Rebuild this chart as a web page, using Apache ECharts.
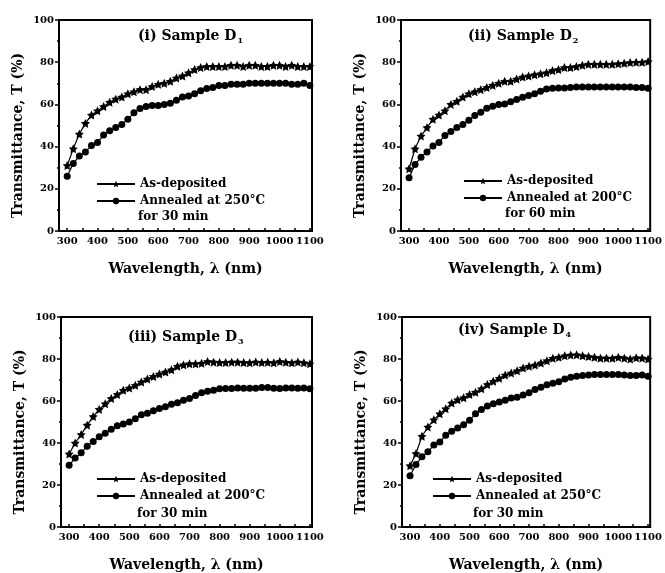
<!DOCTYPE html>
<html>
<head>
<meta charset="utf-8">
<script src="https://cdn.jsdelivr.net/npm/echarts@6/dist/echarts.min.js"></script>
<style>
  html, body { margin: 0; padding: 0; background: #fff; }
  #chart { width: 665px; height: 573px; }
</style>
</head>
<body>
<div id="chart"></div>
<script>
// wavelength grid, 300..1100 nm every 20 nm
var wavelength = [300,320,340,360,380,400,420,440,460,480,500,520,540,560,580,600,620,640,660,680,700,
  720,740,760,780,800,820,840,860,880,900,920,940,960,980,1000,1020,1040,1060,1080,1100];
var xLabels = [300,400,500,600,700,800,900,1000,1100];
var xTickMarks = [300,350,400,450,500,550,600,650,700,750,800,850,900,950,1000,1050,1100];

var d1Dep = [31,39,46,51,55,57,59,61,62.5,63.5,65,66,67,67,68.5,69.5,70,71,72.5,73.5,75,
  76.5,77.5,78,78,78,78,78.5,78.5,78,78.5,78.5,78,78,78.5,78.5,78,78.5,78,78,78];
var d1Ann = [26,32,35.5,37.5,40.5,42,45.5,47.5,49,50.5,53,56,58,59,59.5,59.5,60,60.5,62,63.5,64,
  65,66.5,67.5,68,69,69,69.5,69.5,69.5,70,70,70,70,70,70,70,69.5,69.5,70,69];
var d2Dep = [29.5,39,45,49,53,55,57,60,61.5,63.5,65,66,67,68,69,70,71,71,72,73,73.5,
  74,74.5,75,76,76.5,77.5,77.5,78,78.5,79,79,79,79,79,79.3,79.5,79.8,80,80,80.3];
var d2Ann = [25.2,31.5,35,37.5,40.3,42,45.3,47.2,49,50.5,52.5,54.7,56.3,58.2,59.1,60,60.2,61.3,62.3,63.4,64.2,
  65,66.2,67.3,67.6,67.8,67.8,68,68.2,68.2,68.2,68.3,68.3,68.3,68.3,68.3,68.2,68.2,68,68,67.6];
var d3Dep = [34.8,40,44,48.5,52.6,56,58.7,61.2,63.1,65.1,66.2,67.5,69,70.5,71.7,72.8,73.8,74.9,76.5,77.2,77.7,
  77.7,78,78.8,78.5,78.3,78.3,78.5,78.5,78.3,78.2,78.6,78.3,78.4,78.2,78.8,78.4,78.2,78.6,78.2,77.7];
var d3Ann = [29.4,32.8,35.3,38.5,40.7,43,44.7,46.6,48.2,49,50,51.6,53.4,54.2,55.3,56.4,57.3,58.4,59.2,60.3,61.2,
  62.6,63.9,64.7,65.1,65.8,66,66,66.2,66.1,66.1,66.1,66.4,66.4,66.1,66,66.2,66.2,66.1,66.2,65.8];
var d4Dep = [29.2,35,43.2,47.6,51.1,53.9,56.3,59,60.6,61.5,63.1,64.2,65.8,67.8,69.4,70.8,72.4,73.3,74.4,75.7,76.5,
  77.1,78.1,79.2,80.3,80.8,81.5,81.9,82,81.5,81.2,80.8,80.4,80.4,80.3,80.8,80.4,80,80.6,80.4,80];
var d4Ann = [24.4,29.8,33.4,35.8,39,40.5,43.7,45.6,47.2,48.7,50.8,53.9,56,57.6,58.7,59.5,60.3,61.4,61.8,62.9,63.9,
  65.5,66.6,67.7,68.5,69.2,70.5,71.3,71.8,72.1,72.4,72.6,72.6,72.6,72.6,72.6,72.4,72.2,72.1,72.4,71.8];

var panels = [
  { roman: '(i)', sub: '1', dep: d1Dep, ann: d1Ann, anneal: 'Annealed at 250°C', time: 'for 30 min',
    grid: { left: 59, top: 20, width: 253, height: 211 }, title: [133, 22], legend: [96, 178], timeAt: [138, 211] },
  { roman: '(ii)', sub: '2', dep: d2Dep, ann: d2Ann, anneal: 'Annealed at 200°C', time: 'for 60 min',
    grid: { left: 401, top: 20, width: 253, height: 211 }, title: [463, 22], legend: [463, 175], timeAt: [505, 208] },
  { roman: '(iii)', sub: '3', dep: d3Dep, ann: d3Ann, anneal: 'Annealed at 200°C', time: 'for 30 min',
    grid: { left: 61, top: 317, width: 251, height: 212 }, title: [123, 323], legend: [96, 473], timeAt: [137, 508] },
  { roman: '(iv)', sub: '4', dep: d4Dep, ann: d4Ann, anneal: 'Annealed at 250°C', time: 'for 30 min',
    grid: { left: 402, top: 317, width: 252, height: 212 }, title: [453, 316], legend: [432, 473], timeAt: [473, 508] }
];

var FONT = 'DejaVu Serif';
var star = 'path://M0,-10L2.94,-4.05L9.51,-3.09L4.76,1.55L5.88,8.09L0,5L-5.88,8.09L-4.76,1.55L-9.51,-3.09L-2.94,-4.05Z';

function pairs(ys) {
  return wavelength.map(function (w, i) { return [w, ys[i]]; });
}

var option = {
  backgroundColor: '#fff',
  animation: false,
  textStyle: { fontFamily: FONT },
  title: [], legend: [], grid: [], xAxis: [], yAxis: [], series: [], graphic: []
};

panels.forEach(function (p, k) {
  var depName = 'As-deposited ' + k;
  var annName = p.anneal + ' ' + k;
  option.grid.push({
    left: p.grid.left, top: p.grid.top, width: p.grid.width, height: p.grid.height,
    show: true, borderColor: '#000', borderWidth: 2, backgroundColor: 'transparent'
  });
  option.title.push({
    left: p.title[0], top: p.title[1],
    text: '{a|' + p.roman + ' Sample D}{b|' + p.sub + '}',
    textStyle: {
      rich: {
        a: { fontFamily: FONT, fontWeight: 'bold', fontSize: 14, color: '#000' },
        b: { fontFamily: FONT, fontWeight: 'bold', fontSize: 8, color: '#000', padding: [10, 0, 0, 1] }
      }
    }
  });
  option.xAxis.push({
    gridIndex: k, type: 'value', min: 273, max: 1107,
    name: 'Wavelength, λ (nm)', nameLocation: 'middle', nameGap: 31,
    nameTextStyle: { fontFamily: FONT, fontWeight: 'bold', fontSize: 14, color: '#000' },
    axisLine: { onZero: false, lineStyle: { color: '#000', width: 2 } },
    axisTick: { inside: true, length: 3, customValues: xTickMarks, lineStyle: { color: '#000', width: 1.5 } },
    axisLabel: {
      customValues: xLabels, fontFamily: FONT, fontWeight: 'bold', fontSize: 10, color: '#000', margin: 5,
      formatter: function (v) { return String(v); }
    },
    splitLine: { show: false }
  });
  option.yAxis.push({
    gridIndex: k, type: 'value', min: 0, max: 100, interval: 20,
    name: 'Transmittance, T (%)', nameLocation: 'middle', nameGap: 34,
    nameTextStyle: { fontFamily: FONT, fontWeight: 'bold', fontSize: 14, color: '#000', padding: [0, 20, 0, 0] },
    axisLine: { lineStyle: { color: '#000', width: 2 } },
    axisTick: { length: 4, lineStyle: { color: '#000', width: 1.5 } },
    minorTick: { show: true, splitNumber: 2, length: 2, lineStyle: { color: '#000', width: 1.5 } },
    axisLabel: { fontFamily: FONT, fontWeight: 'bold', fontSize: 10, color: '#000', margin: 5 },
    splitLine: { show: false }
  });
  option.series.push({
    name: depName, type: 'line', xAxisIndex: k, yAxisIndex: k,
    data: pairs(p.dep), symbol: star, symbolSize: 9,
    lineStyle: { color: '#000', width: 1.2 }, itemStyle: { color: '#000' }
  });
  option.series.push({
    name: annName, type: 'line', xAxisIndex: k, yAxisIndex: k,
    data: pairs(p.ann), symbol: 'circle', symbolSize: 7,
    lineStyle: { color: '#000', width: 1.2 }, itemStyle: { color: '#000' }
  });
  option.legend.push({
    left: p.legend[0], top: p.legend[1], orient: 'vertical',
    itemWidth: 38, itemHeight: 8, itemGap: 5, padding: 0,
    data: [depName, annName],
    formatter: function (n) { return n.replace(/ \d$/, ''); },
    textStyle: { fontFamily: FONT, fontWeight: 'bold', fontSize: 12, color: '#000' }
  });
  option.graphic.push({
    type: 'text', left: p.timeAt[0], top: p.timeAt[1],
    style: { text: p.time, fontFamily: FONT, fontWeight: 'bold', fontSize: 12, fill: '#000' }
  });
});

var chart = echarts.init(document.getElementById('chart'));
chart.setOption(option);
</script>
</body>
</html>
